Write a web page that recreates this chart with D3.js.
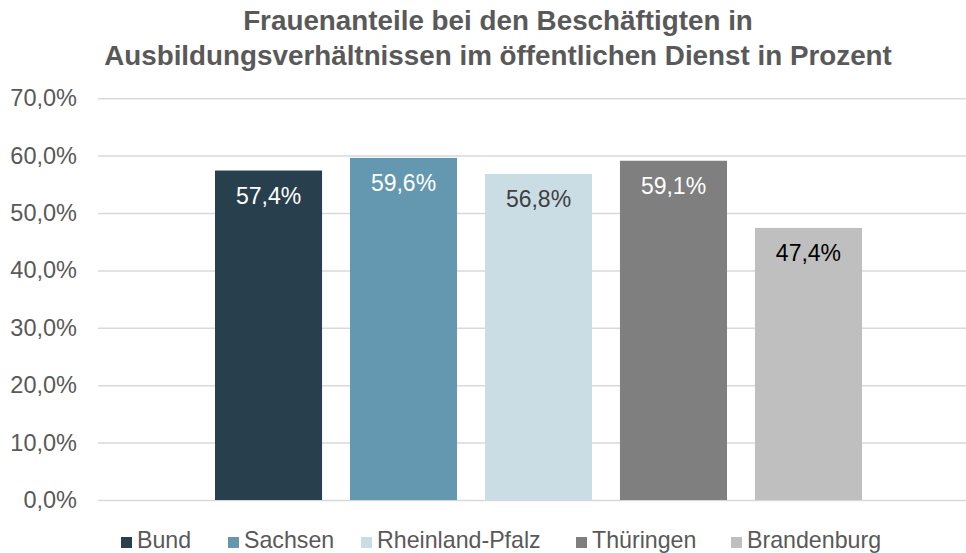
<!DOCTYPE html>
<html>
<head>
<meta charset="utf-8">
<script src="https://cdn.jsdelivr.net/npm/d3@7/dist/d3.min.js"></script>
<style>
  html, body { margin: 0; padding: 0; background: #fff; }
  svg { display: block; font-family: "Liberation Sans", Arial, sans-serif; }
</style>
</head>
<body>
<svg id="chart" width="966" height="553"></svg>
<script>
// Frauenanteile (Prozent) je Dienstherr
const series = ["Bund", "Sachsen", "Rheinland-Pfalz", "Thüringen", "Brandenburg"];
const values = [57.4, 59.6, 56.8, 59.1, 47.4];
const colors = ["#283f4d", "#6398b0", "#cadde5", "#7f7f7f", "#bfbfbf"];
const labelColors = ["#ffffff", "#ffffff", "#404040", "#ffffff", "#000000"];
const yTicks = [0, 10, 20, 30, 40, 50, 60, 70];
const titleLines = [
  "Frauenanteile bei den Beschäftigten in",
  "Ausbildungsverhältnissen im öffentlichen Dienst in Prozent"
];

const svg = d3.select("#chart");
const W = 966;

const fmt = v => v.toFixed(1).replace(".", ",") + "%";

const y = d3.scaleLinear().domain([0, 70]).range([500, 98.2]);
const x = d3.scaleBand().domain(series).range([215, 862]).paddingInner(0.207).paddingOuter(0);

// Titel
svg.append("g").selectAll("text").data(titleLines).join("text")
  .attr("x", 498).attr("y", (d, i) => 30 + i * 35)
  .attr("text-anchor", "middle")
  .attr("font-weight", "bold").attr("font-size", 27.8)
  .attr("fill", "#595959")
  .text(d => d);

// Gitterlinien und y-Achse
const yAxis = d3.axisLeft(y).tickValues(yTicks).tickFormat(d => d.toFixed(1).replace(".", ",") + "%")
  .tickSize(-(W - 98)).tickPadding(21);
const gy = svg.append("g").attr("transform", "translate(98,0)").call(yAxis);
gy.select(".domain").remove();
gy.selectAll(".tick line").attr("stroke", "#d9d9d9").attr("stroke-width", 1.5);
gy.selectAll(".tick text").attr("fill", "#595959").attr("font-size", 23.5)
  .attr("font-family", "'Liberation Sans', Arial, sans-serif");

// Balken
svg.append("g").selectAll("rect").data(values).join("rect")
  .attr("x", (d, i) => x(series[i]))
  .attr("width", x.bandwidth())
  .attr("y", d => y(d))
  .attr("height", d => y(0) - y(d))
  .attr("fill", (d, i) => colors[i]);

// Wertbeschriftungen
svg.append("g").selectAll("text").data(values).join("text")
  .attr("x", (d, i) => x(series[i]) + x.bandwidth() / 2)
  .attr("y", d => y(d) + 33)
  .attr("text-anchor", "middle")
  .attr("font-size", 23)
  .attr("fill", (d, i) => labelColors[i])
  .text(d => fmt(d));

// Legende (Einträge in einer Zeile unter der Grafik)
const legendX = [121, 228, 361, 576, 731];
const leg = svg.append("g").selectAll("g").data(series).join("g")
  .attr("transform", (d, i) => `translate(${legendX[i]},0)`);
leg.append("rect").attr("x", 0).attr("y", 537).attr("width", 11).attr("height", 11)
  .attr("fill", (d, i) => colors[i]);
leg.append("text").attr("x", 16).attr("y", 548)
  .attr("font-size", 23.2).attr("fill", "#595959").text(d => d);
</script>
</body>
</html>
